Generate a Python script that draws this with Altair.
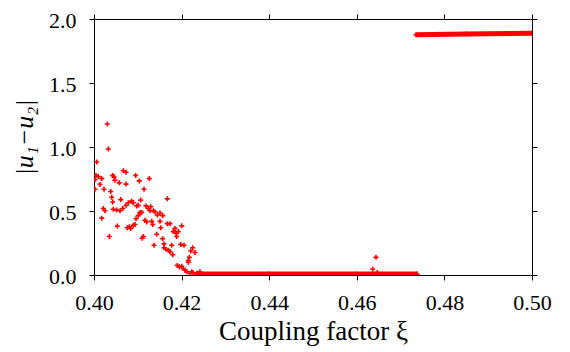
import altair as alt
import pandas as pd

# scattered points (coupling factor xi, |u1-u2|)
scatter_x = [0.40304, 0.40327, 0.40062, 0.40046, 0.40098, 0.40176, 0.40023, 0.40137, 0.40023, 0.40228,
             0.40381, 0.40404, 0.40427, 0.40213, 0.40251, 0.40176, 0.40350, 0.40441, 0.40518, 0.40532,
             0.40610, 0.40594, 0.40655, 0.40669, 0.40731, 0.40578, 0.40479, 0.40427, 0.40457, 0.40731,
             0.40731, 0.40783, 0.40806, 0.40760, 0.40860, 0.40897, 0.40837, 0.40897, 0.40936, 0.40959,
             0.40974, 0.41011, 0.40952, 0.41035, 0.41066, 0.41050, 0.41011, 0.41088, 0.41126, 0.41103,
             0.41142, 0.41164, 0.41203, 0.41187, 0.41240, 0.41263, 0.41279, 0.41294, 0.41317, 0.41340,
             0.41370, 0.41355, 0.41393, 0.41432, 0.41446, 0.41507, 0.41507, 0.41522, 0.41568, 0.41568,
             0.41598, 0.41598, 0.41644, 0.41674, 0.41674, 0.41735, 0.41697, 0.41735, 0.41774, 0.41797,
             0.41811, 0.41849, 0.41872, 0.41888, 0.41925, 0.41979, 0.42002, 0.42055, 0.42176, 0.42208,
             0.42253, 0.42306, 0.42153, 0.41902, 0.41948, 0.42002, 0.42039, 0.42078, 0.42116, 0.42192,
             0.42267, 0.42345, 0.42231, 0.42420, 0.42153,
             0.46438, 0.46363, 0.46468]
scatter_y = [1.180, 0.984, 0.883, 0.778, 0.770, 0.753, 0.745, 0.708, 0.670, 0.670,
             0.652, 0.607, 0.570, 0.519, 0.502, 0.444, 0.301, 0.514, 0.507, 0.382,
             0.589, 0.502, 0.519, 0.815, 0.803, 0.720, 0.740, 0.778, 0.765, 0.710,
             0.544, 0.565, 0.376, 0.369, 0.577, 0.565, 0.364, 0.389, 0.394, 0.439,
             0.540, 0.544, 0.778, 0.735, 0.585, 0.489, 0.464, 0.489, 0.301, 0.288,
             0.670, 0.427, 0.414, 0.540, 0.519, 0.753, 0.502, 0.534, 0.419, 0.394,
             0.233, 0.502, 0.494, 0.318, 0.469, 0.484, 0.419, 0.369, 0.284, 0.464,
             0.243, 0.213, 0.201, 0.595, 0.401, 0.401, 0.193, 0.183, 0.233, 0.158,
             0.339, 0.364, 0.326, 0.301, 0.339, 0.239, 0.384, 0.233, 0.138, 0.188,
             0.213, 0.176, 0.113, 0.075, 0.063, 0.068, 0.050, 0.038, 0.025, 0.013,
             0.017, 0.013, 0.025, 0.025, 0.100,
             0.138, 0.045, 0.020]

# dense sweep bands (drawn as thick lines through read anchor points)
zero_band_x = [0.4235, 0.4400, 0.4600, 0.4738]
zero_band_y = [0.007, 0.007, 0.007, 0.007]
top_band_x = [0.4735, 0.4850, 0.5000]
top_band_y = [1.877, 1.882, 1.889]

x_ticks = [0.40, 0.42, 0.44, 0.46, 0.48, 0.50]
y_ticks = [0.0, 0.5, 1.0, 1.5, 2.0]

RED = "#ff0000"
FONT = "Liberation Serif"

scatter_df = pd.DataFrame({"xi": scatter_x, "du": scatter_y})
band_df = pd.DataFrame({
    "xi": zero_band_x + top_band_x,
    "du": zero_band_y + top_band_y,
    "band": ["zero"] * len(zero_band_x) + ["top"] * len(top_band_x),
})

xscale = alt.Scale(domain=[0.40, 0.50], nice=False, zero=False)
yscale = alt.Scale(domain=[0.0, 2.0], nice=False, zero=False)

common_axis = dict(grid=False, domainColor="black", domainWidth=1, tickColor="black",
                   tickWidth=1, tickSize=5, labelFont=FONT, titleFont=FONT,
                   labelColor="black", titleColor="black")

x_bottom = alt.Axis(orient="bottom", values=x_ticks, format=".2f", labelFontSize=22,
                    labelPadding=12, title="Coupling factor ξ", titleFontSize=27,
                    titleFontWeight="normal", titleBaseline="alphabetic", titleY=64,
                    labelFlush=False, **common_axis)
y_left = alt.Axis(orient="left", values=y_ticks, format=".1f", labelFontSize=22,
                  labelPadding=13, labelOffset=1, title="|u₁−u₂|", titleFontSize=26,
                  titleFontStyle="italic", titleFontWeight="normal",
                  titleBaseline="alphabetic", titleX=-62, titleY=118, titleAngle=270,
                  titleAlign="center", labelFlush=False, **common_axis)
x_top = alt.Axis(orient="top", values=x_ticks, labels=False, title=None, **common_axis)
y_right = alt.Axis(orient="right", values=y_ticks, labels=False, title=None, **common_axis)

plus = "M-1,0L1,0M0,-1L0,1"

points = alt.Chart(scatter_df).mark_point(
    shape=plus, size=25, strokeWidth=1.6, filled=False, color=RED, opacity=1, clip=True
).encode(
    x=alt.X("xi:Q", scale=xscale, axis=x_bottom),
    y=alt.Y("du:Q", scale=yscale, axis=y_left),
)

bands = alt.Chart(band_df).mark_line(
    color=RED, strokeWidth=5, clip=True, strokeCap="butt"
).encode(
    x=alt.X("xi:Q", scale=xscale, axis=x_top),
    y=alt.Y("du:Q", scale=yscale, axis=y_right),
    detail="band:N",
)

band_ends = alt.Chart(band_df).mark_point(
    shape=plus, size=25, strokeWidth=1.6, filled=False, color=RED, opacity=1, clip=True
).encode(
    x=alt.X("xi:Q", scale=xscale, axis=None),
    y=alt.Y("du:Q", scale=yscale, axis=None),
)

chart = alt.layer(points, bands, band_ends).resolve_axis(
    x="independent", y="independent"
).properties(
    width=438, height=256, autosize="none",
    padding={"left": 86, "top": 11, "right": 30, "bottom": 72},
    background="white",
).configure(font=FONT).configure_view(stroke=None)

chart.save("out.html", embed_options={"renderer": "svg", "actions": False})
